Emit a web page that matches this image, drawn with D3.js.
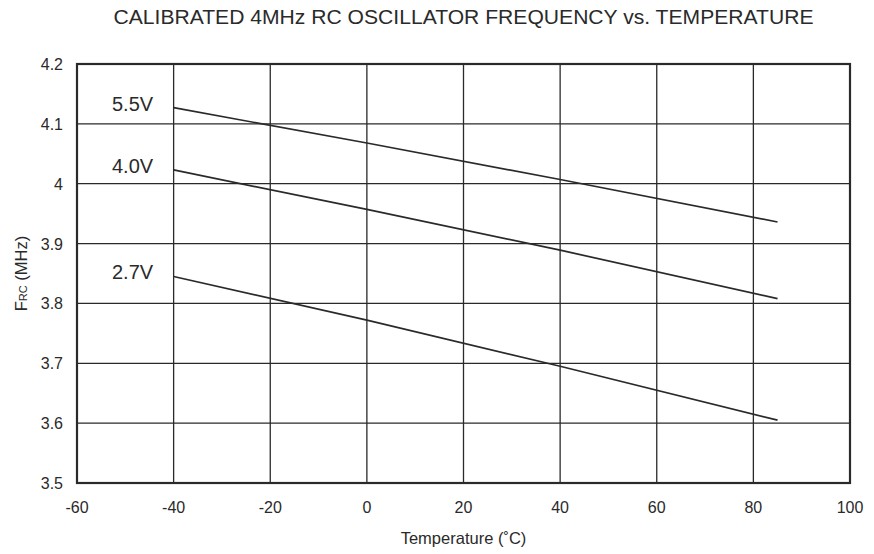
<!DOCTYPE html>
<html>
<head>
<meta charset="utf-8">
<script src="https://cdn.jsdelivr.net/npm/d3@7"></script>
<style>
  body { margin: 0; background: #fff; }
  svg { font-family: "Liberation Sans", Arial, sans-serif; }
</style>
</head>
<body>
<svg id="chart" width="874" height="554"></svg>
<script>
// values
const temps = [-40, 0, 40, 85];
const v55 = [4.127, 4.068, 4.007, 3.936];
const v40 = [4.023, 3.957, 3.889, 3.808];
const v27 = [3.845, 3.772, 3.695, 3.605];
const seriesNames = ["5.5V", "4.0V", "2.7V"];
const xTicks = [-60, -40, -20, 0, 20, 40, 60, 80, 100];
const yTicks = [3.5, 3.6, 3.7, 3.8, 3.9, 4, 4.1, 4.2];

const width = 874, height = 554;
const margin = {top: 64, right: 24, bottom: 71, left: 77};

const svg = d3.select("#chart");
const x = d3.scaleLinear([-60, 100], [margin.left, width - margin.right]);
const y = d3.scaleLinear([3.5, 4.2], [height - margin.bottom, margin.top]);
const ink = "#2a2a2a";
const cx = (x(-60) + x(100)) / 2;

// grid
svg.append("g")
  .selectAll("line")
  .data(xTicks)
  .join("line")
    .attr("x1", d => x(d)).attr("x2", d => x(d))
    .attr("y1", y(3.5)).attr("y2", y(4.2))
    .attr("stroke", ink).attr("stroke-width", 1.3);

svg.append("g")
  .selectAll("line")
  .data(yTicks)
  .join("line")
    .attr("x1", x(-60)).attr("x2", x(100))
    .attr("y1", d => y(d)).attr("y2", d => y(d))
    .attr("stroke", ink).attr("stroke-width", 1.3);

svg.append("rect")
    .attr("x", x(-60)).attr("y", y(4.2))
    .attr("width", x(100) - x(-60)).attr("height", y(3.5) - y(4.2))
    .attr("fill", "none").attr("stroke", ink).attr("stroke-width", 2.2);

// tick labels
svg.append("g")
  .selectAll("text")
  .data(xTicks)
  .join("text")
    .attr("x", d => x(d)).attr("y", y(3.5) + 30)
    .attr("text-anchor", "middle")
    .attr("font-size", 16).attr("fill", ink)
    .text(d => d);

svg.append("g")
  .selectAll("text")
  .data(yTicks)
  .join("text")
    .attr("x", x(-60) - 14).attr("y", d => y(d) + 6)
    .attr("text-anchor", "end")
    .attr("font-size", 16).attr("fill", ink)
    .text(d => d);

// series
const series = [v55, v40, v27].map((vals, i) => ({
  name: seriesNames[i],
  points: temps.map((t, j) => [t, vals[j]])
}));

const line = d3.line().x(d => x(d[0])).y(d => y(d[1]));

svg.append("g")
  .selectAll("path")
  .data(series)
  .join("path")
    .attr("d", d => line(d.points))
    .attr("fill", "none")
    .attr("stroke", ink)
    .attr("stroke-width", 1.7);

svg.append("g")
  .selectAll("text")
  .data(series)
  .join("text")
    .attr("x", x(-48.5))
    .attr("y", d => y(d.points[0][1]) + 3)
    .attr("text-anchor", "middle")
    .attr("font-size", 20).attr("fill", ink)
    .text(d => d.name);

// titles
svg.append("text")
    .attr("x", cx).attr("y", 24)
    .attr("text-anchor", "middle")
    .attr("font-size", 20).attr("fill", ink)
    .attr("textLength", 700).attr("lengthAdjust", "spacingAndGlyphs")
    .text("CALIBRATED 4MHz RC OSCILLATOR FREQUENCY vs. TEMPERATURE");

svg.append("text")
    .attr("x", cx).attr("y", 544)
    .attr("text-anchor", "middle")
    .attr("font-size", 16.5).attr("fill", ink)
    .text("Temperature (˚C)");

const yl = svg.append("text")
    .attr("transform", `translate(27,${y(3.85)}) rotate(-90)`)
    .attr("text-anchor", "middle")
    .attr("font-size", 16.5).attr("fill", ink);
yl.append("tspan").text("F");
yl.append("tspan").attr("font-size", 11).text("RC");
yl.append("tspan").text(" (MHz)");
</script>
</body>
</html>
